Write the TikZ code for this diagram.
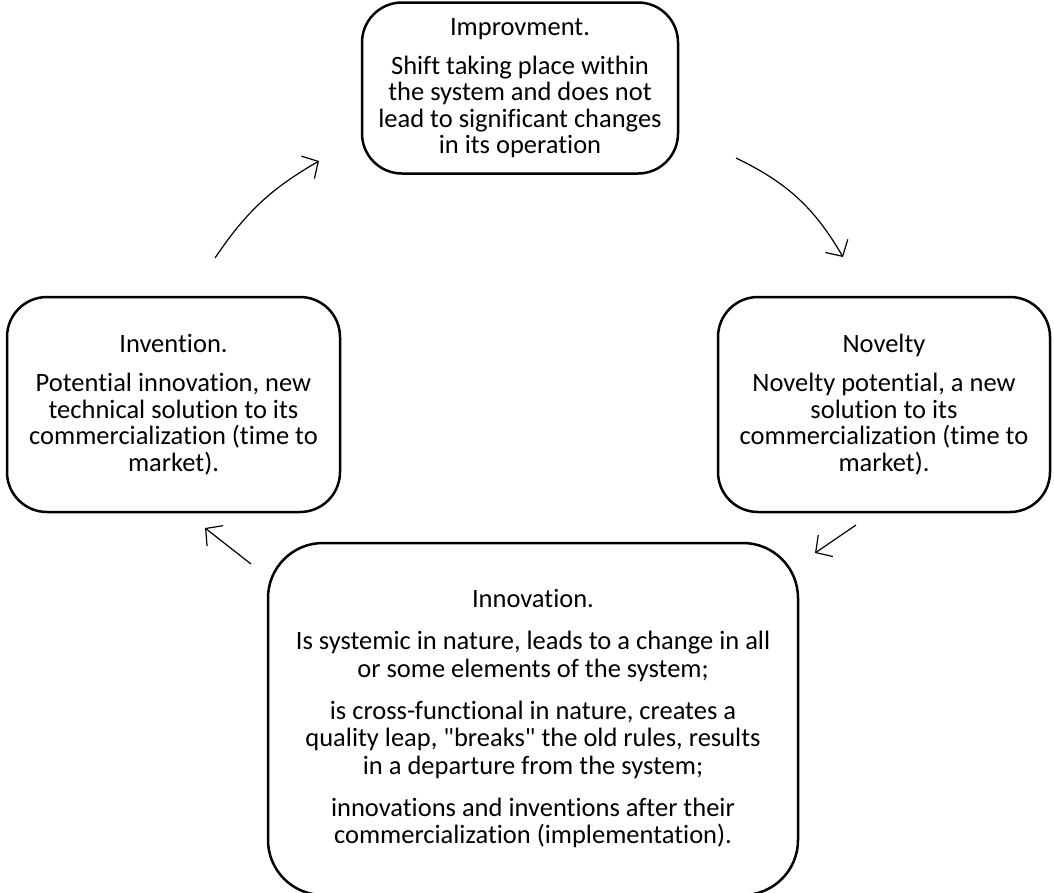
\documentclass[tikz,border=0pt]{standalone}
\usepackage{fontspec}
\setmainfont{Carlito}[Ligatures={NoCommon,TeXOff}]
\usetikzlibrary{arrows.meta}
\begin{document}
\begin{tikzpicture}[x=1pt,y=-1pt,
  box/.style={draw, line width=2.5pt, rounded corners=40pt, align=center, inner sep=0pt,
    font=\fontsize{26.5}{26.5}\selectfont},
  flow/.style={line width=1.2pt, -{Straight Barb[length=12pt,width=26pt,line width=1.2pt]}}]
\useasboundingbox (0,0) rectangle (1054,892);
\clip (0,0) rectangle (1054,892);
\node[box, minimum width=316pt, minimum height=171pt] (impr) at (520,88)
  {Improvment.\\[12.5pt] Shift taking place within\\ the system and does not\\ lead to significant changes\\ in its operation};
\node[box, minimum width=333pt, minimum height=215pt] (inv) at (173.5,404.5)
  {Invention.\\[12.5pt] Potential innovation, new\\ technical solution to its\\ commercialization (time to\\ market).};
\node[box, minimum width=332pt, minimum height=215pt] (nov) at (884,404.5)
  {Novelty\\[12.5pt] Novelty potential, a new\\ solution to its\\ commercialization (time to\\ market).};
\node[box, rounded corners=55pt, minimum width=530pt, minimum height=352pt,
  font=\fontsize{26.5}{27.5}\selectfont] (innov) at (533,719)
  {Innovation.\\[14.5pt] Is systemic in nature, leads to a change in all\\ or some elements of the system;\\[14.5pt]
   is cross-functional in nature, creates a\\ quality leap, "breaks" the old rules, results\\ in a departure from the system;\\[14.5pt]
   innovations and inventions after their\\ commercialization (implementation).};
\coordinate (a1s) at (215,258);
\coordinate (a1e) at (319,161);
\coordinate (a2s) at (736,158);
\coordinate (a2e) at (843,257);
\coordinate (a3s) at (856,525);
\coordinate (a3e) at (815,553);
\coordinate (a4s) at (251,564);
\coordinate (a4e) at (205,528);
\draw[flow] (a1s) to[bend left=13] (a1e);
\draw[flow] (a2s) to[bend left=17] (a2e);
\draw[flow] (a3s) -- (a3e);
\draw[flow] (a4s) -- (a4e);
\end{tikzpicture}
\end{document}
